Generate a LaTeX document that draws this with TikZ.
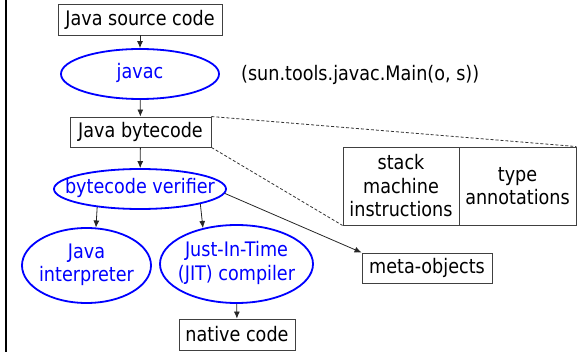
\documentclass[tikz,border=0pt]{standalone}
\usepackage{fontspec}
\setmainfont{DejaVu Sans}[FakeStretch=0.88]
\usetikzlibrary{shapes.geometric,arrows.meta}

\newcommand{\ovaltext}[1]{\makebox[0pt]{\begin{tabular}{@{}c@{}}#1\end{tabular}}}

\tikzset{
  codebox/.style={draw=black!75, rectangle, inner sep=0pt, align=center, line width=0.9pt},
  tool/.style={draw=blue, text=blue, ellipse, inner sep=0pt, line width=1.8pt},
  flow/.style={-{Latex[length=7pt,width=6pt]}, black!85, line width=0.8pt},
  detail/.style={black!80, line width=0.8pt, dash pattern=on 3pt off 2pt},
}

\begin{document}
\begin{tikzpicture}[x=1pt,y=-1pt,font=\fontsize{20}{23.5}\selectfont]
  \useasboundingbox (0,0) rectangle (577,352);
  \draw[line width=2.4pt] (6.2,0) -- (6.2,352);

  \node[codebox, minimum width=164pt, minimum height=31pt] (source) at (140,19.5) {Java source code};
  \node[tool, minimum width=158pt, minimum height=50pt] (javac) at (140,74) {\ovaltext{javac}};
  \node[anchor=west, inner sep=0pt] (mainclass) at (241,75) {(sun.tools.javac.Main(o, s))};

  \node[codebox, minimum width=141pt, minimum height=30pt] (bytecode) at (140.5,132) {Java bytecode};
  \node[tool, minimum width=172pt, minimum height=40pt] (verifier) at (140,189) {\ovaltext{bytecode verifier}};

  \node[tool, minimum width=129pt, minimum height=75pt] (interp) at (86.5,265.5) {\ovaltext{Java\\interpreter}};
  \node[tool, minimum width=153pt, minimum height=78pt] (jit) at (236.5,264) {\ovaltext{Just-In-Time\\(JIT) compiler}};
  \node[codebox, minimum width=116pt, minimum height=31pt] (native) at (237,334.5) {native code};

  \node[codebox, minimum width=116pt, minimum height=78pt] (stack) at (401,186) {stack\\machine\\instructions};
  \node[codebox, minimum width=117pt, minimum height=78pt] (types) at (517.5,186) {type\\annotations};
  \node[codebox, minimum width=130pt, minimum height=30pt] (meta) at (427,268) {meta-objects};

  \draw[flow] (source) -- (javac);
  \draw[flow] (javac) -- (bytecode);
  \draw[flow] (bytecode) -- (verifier);
  \draw[flow] (verifier.203) -- (interp.76);
  \draw[flow] (verifier.346) -- (jit.133);
  \draw[flow] (jit) -- (native);
  \draw[flow] (verifier.-3.4) -- (meta.north west);

  \draw[detail] (bytecode.north east) -- (types.north east);
  \draw[detail] (bytecode.south east) -- (stack.south west);
\end{tikzpicture}
\end{document}
